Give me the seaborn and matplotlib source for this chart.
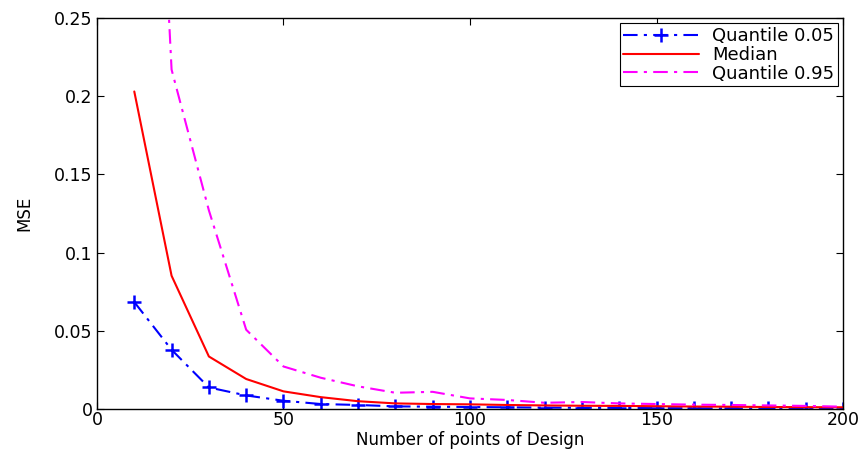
import numpy as np
import pandas as pd
import matplotlib
matplotlib.use("Agg")
import matplotlib.pyplot as plt
import seaborn as sns

# design sizes and MSE quantiles
n_points = [10, 20, 30, 40, 50, 60, 70, 80, 90, 100,
            110, 120, 130, 140, 150, 160, 170, 180, 190, 200]
q05 = [0.0684, 0.0379, 0.0138, 0.0087, 0.0053, 0.0032, 0.0026, 0.0017, 0.0015, 0.0013,
       0.0011, 0.0009, 0.0008, 0.0007, 0.0006, 0.0005, 0.0004, 0.0004, 0.0003, 0.0002]
median = [0.203, 0.0852, 0.0336, 0.0192, 0.0113, 0.0076, 0.0050, 0.0036, 0.0032, 0.0030,
          0.0026, 0.0023, 0.0021, 0.0020, 0.0018, 0.0016, 0.0015, 0.0013, 0.0012, 0.0011]
q95 = [0.69, 0.217, 0.127, 0.0507, 0.0272, 0.0200, 0.0145, 0.0104, 0.0110, 0.0068,
       0.0058, 0.0040, 0.0045, 0.0036, 0.0032, 0.0028, 0.0026, 0.0023, 0.0020, 0.0015]

df = pd.DataFrame({'n': n_points, 'q05': q05, 'median': median, 'q95': q95})

sns.set_style('ticks')
plt.rcParams['font.family'] = ['DejaVu Sans']
plt.rcParams['text.color'] = 'black'
plt.rcParams['axes.labelcolor'] = 'black'
plt.rcParams['xtick.color'] = 'black'
plt.rcParams['ytick.color'] = 'black'

fig = plt.figure(figsize=(8.62, 4.49), dpi=100)
ax = fig.add_axes([0.1125, 0.089, 0.8655, 0.871])

sns.lineplot(data=df, x='n', y='q05', ax=ax, color='#0000ff', lw=1.5,
             marker='+', markersize=10, markeredgewidth=1.8,
             markeredgecolor='#0000ff', label='Quantile 0.05')
ax.lines[-1].set_dashes([7, 3, 1.5, 3])
sns.lineplot(data=df, x='n', y='median', ax=ax, color='#ff0000', lw=1.5,
             label='Median')
sns.lineplot(data=df, x='n', y='q95', ax=ax, color='#ff00ff', lw=1.5,
             label='Quantile 0.95')
ax.lines[-1].set_dashes([7, 3, 1.5, 3])

ax.set_xlim(0, 200)
ax.set_ylim(0, 0.25)
ax.set_xticks([0, 50, 100, 150, 200])
ax.set_yticks([0, 0.05, 0.1, 0.15, 0.2, 0.25])
ax.set_yticklabels(['0', '0.05', '0.1', '0.15', '0.2', '0.25'])
ax.tick_params(direction='in', top=True, right=True, length=5, width=0.8,
               labelsize=12.5, pad=3)
ax.tick_params(axis='x', pad=1.5)
for s in ax.spines.values():
    s.set_visible(True)
    s.set_linewidth(1.0)
    s.set_color('black')

ax.set_xlabel('Number of points of Design', fontsize=12)
ax.set_ylabel('MSE', fontsize=12)
ax.xaxis.set_label_coords(0.5, -0.056)
ax.yaxis.set_label_coords(-0.085, 0.5)

leg = ax.legend(loc='upper right', fontsize=13, frameon=True, fancybox=False,
                edgecolor='black', handlelength=4.2, borderaxespad=0.3,
                borderpad=0.2, labelspacing=0.05, handletextpad=0.7)
leg.get_frame().set_linewidth(0.8)
leg.get_frame().set_alpha(1)

fig.savefig('out.png', dpi=100)
